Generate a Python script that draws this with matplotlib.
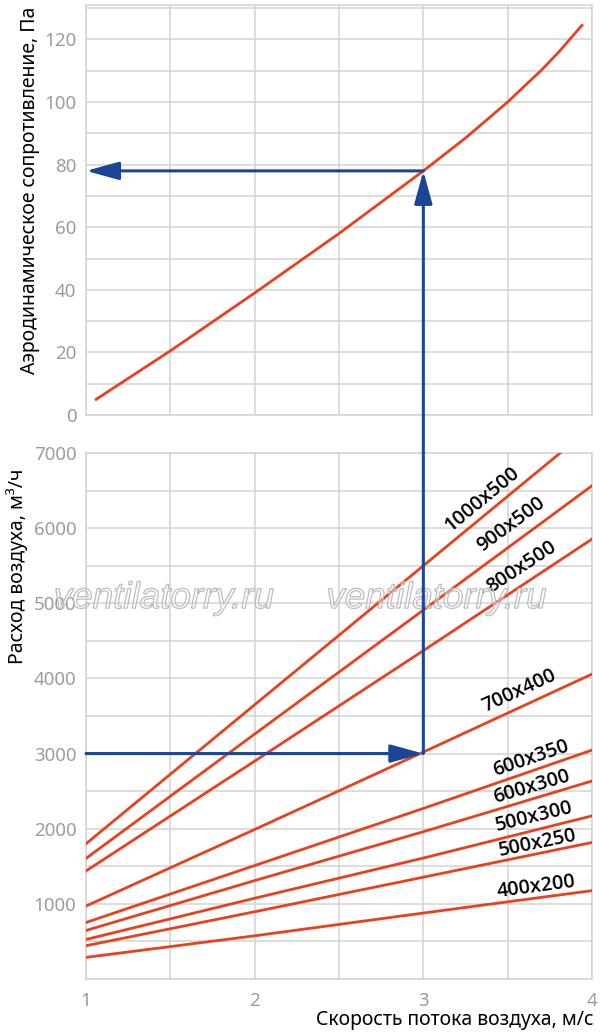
import numpy as np
import matplotlib
matplotlib.use("Agg")
import matplotlib.pyplot as plt
from matplotlib.ticker import MultipleLocator
from matplotlib.patches import ConnectionPatch
import matplotlib.patheffects as pe

# данные
v_dp = [1.06, 1.5, 2.0, 2.5, 3.0, 3.25, 3.5, 3.7, 3.8, 3.94]
dp = [5, 20.5, 39, 58, 78, 88.5, 100, 110.2, 115.8, 124.5]

speeds = [1, 2, 3, 4]
sizes = ["1000x500", "900x500", "800x500", "700x400", "600x350",
         "600x300", "500x300", "500x250", "400x200"]
flows = [
    [1800, 3650, 5500, 7350],
    [1605, 3260, 4910, 6565],
    [1438, 2900, 4370, 5855],
    [971, 1990, 3020, 4058],
    [752, 1510, 2270, 3046],
    [646, 1310, 1960, 2635],
    [526, 1075, 1610, 2171],
    [443, 895, 1355, 1817],
    [288, 575, 878, 1176],
]
# положение подписей (скорость, расход)
label_pos = [(3.35, 6390), (3.52, 6044), (3.58, 5487), (3.57, 3829), (3.64, 2940),
             (3.64, 2556), (3.66, 2158), (3.68, 1813), (3.67, 1229)]

# рабочая точка
v_work = 3
q_work = 3000
dp_work = 78

RED = "#e8411e"
BLUE = "#1b4596"
GRID = "#d3d3d3"
TICK = "#9c9c9c"

plt.rcParams["font.family"] = ["Noto Sans", "DejaVu Sans"]

fig = plt.figure(figsize=(6, 10.32), dpi=100)
ax1 = fig.add_axes([86 / 600, 1 - 415 / 1032, 506 / 600, 410 / 1032])
ax2 = fig.add_axes([86 / 600, 1 - 979 / 1032, 506 / 600, 526 / 1032])

for ax in (ax1, ax2):
    ax.set_xlim(1, 4)
    ax.xaxis.set_major_locator(MultipleLocator(1))
    ax.xaxis.set_minor_locator(MultipleLocator(0.5))
    ax.grid(which="both", color=GRID, lw=1.1)
    ax.set_axisbelow(True)
    for s in ax.spines.values():
        s.set_color(GRID)
        s.set_linewidth(1.1)
    ax.tick_params(which="both", length=0, labelcolor=TICK, labelsize=13.5)

# верхний график
ax1.set_ylim(0, 131)
ax1.yaxis.set_major_locator(MultipleLocator(20))
ax1.yaxis.set_minor_locator(MultipleLocator(10))
ax1.tick_params(axis="y", pad=7)
ax1.tick_params(axis="x", labelbottom=False)
ax1.plot(v_dp, dp, color=RED, lw=2.0, zorder=3, solid_joinstyle="round")

# нижний график
ax2.set_ylim(0, 7000)
ax2.set_yticks(np.arange(1000, 7001, 1000))
ax2.yaxis.set_minor_locator(MultipleLocator(500))
ax2.tick_params(axis="y", pad=7)
ax2.tick_params(axis="x", pad=9)

for name, q in zip(sizes, flows):
    ax2.plot(speeds, q, color=RED, lw=2.0, zorder=3)

# подписи вдоль линий
for name, q, (lx, ly) in zip(sizes, flows, label_pos):
    p0 = ax2.transData.transform((speeds[0], q[0]))
    p1 = ax2.transData.transform((speeds[-1], q[-1]))
    ang = np.degrees(np.arctan2(p1[1] - p0[1], p1[0] - p0[0]))
    ax2.text(lx, ly, name, rotation=ang, rotation_mode="anchor",
             ha="center", va="center", fontsize=14.3, fontweight="semibold",
             family=["Open Sans", "DejaVu Sans"], color="black", zorder=4)

# водяной знак
for wx in (1.462, 3.078):
    ax2.text(wx, 5062, "ventilatorry.ru", fontsize=26.5, style="italic",
             family="Liberation Sans", color=(1, 1, 1, 0.35),
             ha="center", va="center", zorder=5,
             path_effects=[pe.Stroke(linewidth=0.9, foreground="#bdbdbd")])

# стрелки
arrow = "-|>,head_length=2.0,head_width=0.55"
ax2.annotate("", xy=(v_work, q_work), xytext=(1, q_work),
             arrowprops=dict(arrowstyle=arrow, color=BLUE, lw=2.2,
                             mutation_scale=10, shrinkA=0, shrinkB=0), zorder=6)
ax1.annotate("", xy=(1, dp_work), xytext=(v_work, dp_work),
             arrowprops=dict(arrowstyle=arrow, color=BLUE, lw=2.2,
                             mutation_scale=10, shrinkA=0, shrinkB=0), zorder=6)
con = ConnectionPatch(xyA=(v_work, q_work), coordsA=ax2.transData,
                      xyB=(v_work, dp_work), coordsB=ax1.transData,
                      arrowstyle=arrow, color=BLUE, lw=2.2,
                      mutation_scale=10, shrinkA=0, shrinkB=0, zorder=6)
fig.add_artist(con)

# подписи осей
fig.text(30 / 600, 1 - 190 / 1032, "Аэродинамическое сопротивление, Па",
         rotation=90, ha="center", va="center", fontsize=14)
fig.text(17 / 600, 1 - 566 / 1032, "Расход воздуха, м³/ч",
         rotation=90, ha="center", va="center", fontsize=14)
fig.text(593 / 600, 1 - 1020 / 1032, "Скорость потока воздуха, м/с",
         ha="right", va="center", fontsize=14)

fig.savefig("out.png", dpi=100)
